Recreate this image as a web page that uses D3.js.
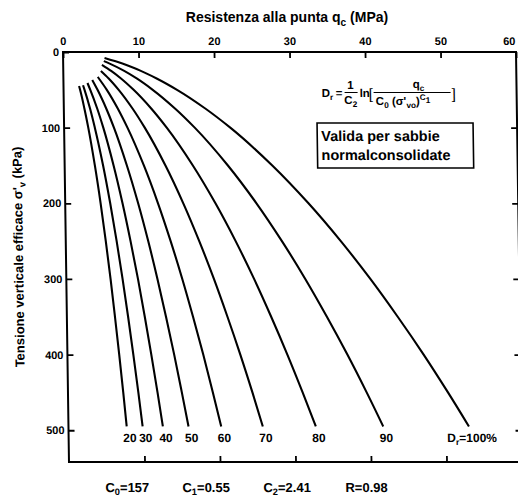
<!DOCTYPE html>
<html><head><meta charset="utf-8">
<script src="https://cdn.jsdelivr.net/npm/d3@7"></script>
<style>
body{margin:0;background:#fff}
svg{display:block}
text{font-family:"Liberation Sans",Arial,Helvetica,sans-serif;fill:#000;font-weight:bold}
</style>
</head><body>
<svg id="c" width="518" height="500"></svg>
<script>
// ---- data ----
const qcTicks = [0, 10, 20, 30, 40, 50, 60];          // MPa (top axis)
const sigmaTicks = [0, 100, 200, 300, 400, 500];      // kPa (left axis)
const drValues = [20, 30, 40, 50, 60, 70, 80, 90, 100]; // relative density %
// each curve: [sigma'v (kPa), qc (MPa)]
const dr20  = [[45,2.06],[50,2.19],[75,2.73],[100,3.20],[150,4.00],[200,4.69],[250,5.30],[300,5.86],[350,6.37],[400,6.86],[450,7.32],[495,7.71]];
const dr30  = [[44,2.59],[50,2.78],[75,3.48],[100,4.07],[150,5.09],[200,5.96],[250,6.74],[300,7.45],[350,8.11],[400,8.73],[450,9.32],[495,9.82]];
const dr40  = [[41,3.18],[50,3.54],[75,4.43],[100,5.19],[150,6.48],[200,7.59],[250,8.58],[300,9.49],[350,10.32],[400,11.11],[450,11.86],[495,12.50]];
const dr50  = [[37,3.82],[50,4.50],[75,5.63],[100,6.60],[150,8.24],[200,9.66],[250,10.92],[300,12.07],[350,13.13],[400,14.14],[450,15.08],[495,15.90]];
const dr60  = [[33,4.56],[50,5.73],[75,7.16],[100,8.39],[150,10.49],[200,12.29],[250,13.89],[300,15.36],[350,16.71],[400,17.99],[450,19.19],[495,20.23]];
const dr70  = [[25,4.98],[35,6.00],[50,7.30],[75,9.12],[100,10.68],[150,13.35],[200,15.64],[250,17.68],[300,19.55],[350,21.27],[400,22.90],[450,24.43],[495,25.74]];
const dr80  = [[17,5.13],[25,6.34],[35,7.63],[50,9.28],[75,11.60],[100,13.59],[150,16.98],[200,19.90],[250,22.50],[300,24.87],[350,27.06],[400,29.13],[450,31.08],[495,32.76]];
const dr90  = [[12,5.39],[15,6.09],[25,8.07],[35,9.71],[50,11.81],[75,14.76],[100,17.30],[150,21.62],[200,25.33],[250,28.63],[300,31.65],[350,34.44],[400,37.08],[450,39.56],[495,41.69]];
const dr100 = [[8,5.49],[15,7.75],[25,10.27],[35,12.35],[50,15.03],[75,18.78],[100,22.01],[150,27.50],[200,32.22],[250,36.43],[300,40.27],[350,43.82],[400,47.18],[450,50.33],[495,53.04]];
const curves = [dr20, dr30, dr40, dr50, dr60, dr70, dr80, dr90, dr100];
const coefC0 = "157", coefC1 = "0.55", coefC2 = "2.41", coefR = "0.98";

// ---- drawing ----
const svg = d3.select("#c");
const x = d3.scaleLinear().domain([0, 60]).range([63, 516]);
const y = d3.scaleLinear().domain([0, 542]).range([52, 462]);

function rich(sel, parts) {
  let cur = 0;
  parts.forEach(([t, m]) => {
    if (t === "") return;
    const target = m === "sub" ? 3.5 : m === "sup" ? -4.5 : m === "supsub" ? -2 : 0;
    const ts = sel.append("tspan").attr("dy", target - cur).text(t);
    if (m !== "n") ts.attr("font-size", "72%");
    cur = target;
  });
  return sel;
}

// top title (outside sheared group)
rich(svg.append("text").attr("x", 287).attr("y", 22).attr("text-anchor", "middle").attr("font-size", 14),
  [["Resistenza alla punta q", "n"], ["c", "sub"], [" (MPa)", "n"]]);

// sheared group mimics the slight slant of the scan
const g = svg.append("g").attr("transform", "translate(0,52) skewX(0.838) translate(0,-52)");

// frame
g.append("rect").attr("x", x(0)).attr("y", y(0)).attr("width", x(60) - x(0)).attr("height", y(542) - y(0))
  .attr("fill", "none").attr("stroke", "#000").attr("stroke-width", 2);

function styleAxis(a, fsz) {
  a.select(".domain").remove();
  a.selectAll(".tick line").attr("stroke", "#000").attr("stroke-width", 1.8);
  a.selectAll(".tick text").attr("font-size", fsz).attr("font-family", null).style("font-weight", "bold");
}
const axTop = g.append("g").attr("transform", `translate(0,${y(0)})`)
  .call(d3.axisTop(x).tickValues(qcTicks).tickSize(-6).tickPadding(7).tickSizeOuter(0));
styleAxis(axTop, 11);
axTop.selectAll(".tick text").filter(d => d === 60).attr("text-anchor", "end").attr("dx", -1);
const axLeft = g.append("g").attr("transform", `translate(${x(0)},0)`)
  .call(d3.axisLeft(y).tickValues(sigmaTicks).tickSize(-6).tickPadding(4).tickSizeOuter(0));
styleAxis(axLeft, 11);
const axRight = g.append("g").attr("transform", `translate(${x(60)},0)`)
  .call(d3.axisRight(y).tickValues(sigmaTicks.slice(1)).tickSize(-6).tickFormat("").tickSizeOuter(0));
styleAxis(axRight, 11);
const axBottom = g.append("g").attr("transform", `translate(0,${y(542)})`)
  .call(d3.axisBottom(x).tickValues(qcTicks.slice(1, 6)).tickSize(-6).tickFormat("").tickSizeOuter(0));
styleAxis(axBottom, 11);

// curves
const line = d3.line().x(d => x(d[1])).y(d => y(d[0])).curve(d3.curveMonotoneY);
g.selectAll("path.curve").data(curves).join("path").attr("class", "curve")
  .attr("d", line).attr("fill", "none").attr("stroke", "#000").attr("stroke-width", 2.1);

// curve labels
curves.forEach((c, i) => {
  const end = c[c.length - 1];
  const t = g.append("text").attr("x", x(end[1]) + 3).attr("y", 442)
    .attr("text-anchor", "middle").attr("font-size", 12);
  if (drValues[i] === 100) rich(t, [["D", "n"], ["r", "sub"], ["=" + drValues[i] + "%", "n"]]);
  else t.text(drValues[i]);
});

// left axis title
rich(g.append("text").attr("transform", "translate(20,257) rotate(-90)").attr("text-anchor", "middle")
  .attr("dy", "0.35em").attr("font-size", 13),
  [["Tensione verticale efficace σ'", "n"], ["v", "sub"], [" (kPa)", "n"]]);

// coefficients line
const coefs = [["C", "0", coefC0, 99], ["C", "1", coefC1, 176], ["C", "2", coefC2, 257], ["R", "", coefR, 339]];
coefs.forEach(([a, s, v, px]) => {
  rich(g.append("text").attr("x", px).attr("y", 492).attr("font-size", 13),
    [[a, "n"], [s, "sub"], ["=" + v, "n"]]);
});

// formula
const fs = 11.5;
rich(g.append("text").attr("x", 321).attr("y", 97).attr("font-size", fs), [["D", "n"], ["r", "sub"]]);
g.append("text").attr("x", 335).attr("y", 97).attr("font-size", fs).text("=");
g.append("text").attr("x", 350).attr("y", 89).attr("text-anchor", "middle").attr("font-size", fs).text("1");
g.append("line").attr("x1", 344).attr("x2", 357).attr("y1", 92.5).attr("y2", 92.5).attr("stroke", "#000").attr("stroke-width", 1.2);
rich(g.append("text").attr("x", 350).attr("y", 104).attr("text-anchor", "middle").attr("font-size", fs), [["C", "n"], ["2", "sub"]]);
g.append("text").attr("x", 359).attr("y", 97).attr("font-size", fs).text("ln");
g.append("text").attr("x", 368).attr("y", 99).attr("font-size", 15).style("font-weight", "normal").text("[");
rich(g.append("text").attr("x", 418).attr("y", 88).attr("text-anchor", "middle").attr("font-size", fs), [["q", "n"], ["c", "sub"]]);
g.append("line").attr("x1", 373).attr("x2", 450).attr("y1", 92.5).attr("y2", 92.5).attr("stroke", "#000").attr("stroke-width", 1.2);
rich(g.append("text").attr("x", 375).attr("y", 105).attr("font-size", fs),
  [["C", "n"], ["0", "sub"], [" (σ'", "n"], ["vo", "sub"], [")", "n"], ["C", "sup"], ["1", "supsub"]]);
g.append("text").attr("x", 451).attr("y", 99).attr("font-size", 15).style("font-weight", "normal").text("]");

// note box
g.append("rect").attr("x", 316).attr("y", 123).attr("width", 156).attr("height", 45)
  .attr("fill", "none").attr("stroke", "#000").attr("stroke-width", 1.6);
g.append("text").attr("x", 320).attr("y", 141).attr("font-size", 14.5).text("Valida per sabbie");
g.append("text").attr("x", 320).attr("y", 160).attr("font-size", 14.5).text("normalconsolidate");
</script>
</body></html>
